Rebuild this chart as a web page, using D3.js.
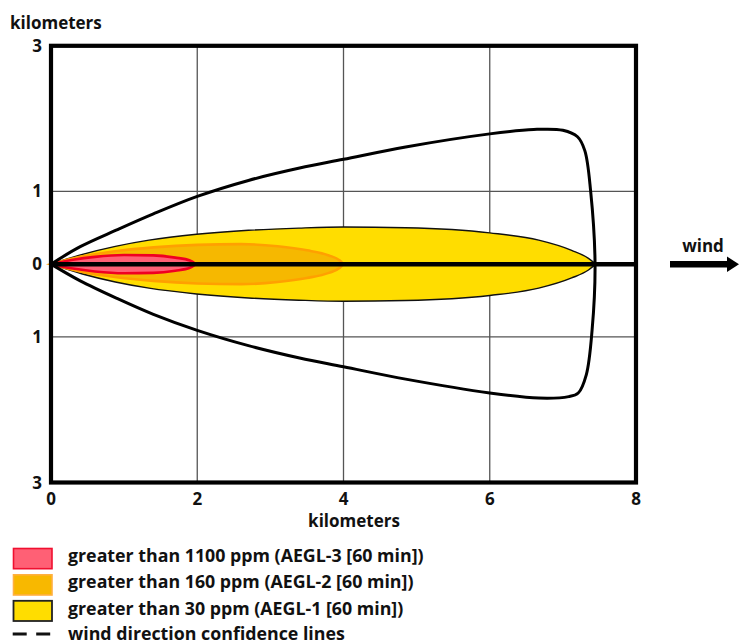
<!DOCTYPE html>
<html>
<head>
<meta charset="utf-8">
<script src="https://cdn.jsdelivr.net/npm/d3@7"></script>
<style>
  html, body { margin: 0; padding: 0; background: #fff; }
  svg { display: block; }
  text { font-family: "Open Sans", "DejaVu Sans", sans-serif; font-weight: 700; fill: #111; }
</style>
</head>
<body>
<svg id="chart" width="739" height="644"></svg>
<script>
// ---------- data (kilometers) ----------
const xTicks = [0, 2, 4, 6, 8];
const xTickLabels = ["0", "2", "4", "6", "8"];
const yTicks = [3, 1, 0, -1, -3];
const yTickLabels = ["3", "1", "0", "1", "3"];
const xGrid = [2, 4, 6];
const yGrid = [1, -1];

// wind direction confidence lines: upper branch then lower branch (x, y)
const confUpper = [
  [0, 0], [0.4, 0.24], [0.9, 0.47], [1.4, 0.69], [2.0, 0.93], [2.7, 1.15],
  [3.4, 1.32], [4.0, 1.44], [4.85, 1.61], [6.0, 1.79], [6.6, 1.85], [7.0, 1.84],
  [7.2, 1.75], [7.3, 1.56], [7.38, 1.0], [7.44, 0.0]
];
const confLower = [
  [0, 0], [0.4, -0.23], [0.9, -0.47], [1.4, -0.69], [2.0, -0.91], [2.7, -1.12],
  [3.4, -1.29], [4.0, -1.41], [4.85, -1.58], [6.0, -1.77], [6.67, -1.84], [7.08, -1.82],
  [7.21, -1.77], [7.32, -1.52], [7.40, -0.9], [7.44, 0.0]
];

// threat zones: downwind distance and half-width
const aegl1 = [
  [0, 0], [0.43, 0.135], [0.88, 0.245], [1.34, 0.33], [1.99, 0.41], [2.70, 0.465],
  [3.39, 0.495], [4.0, 0.51], [4.85, 0.5], [6.0, 0.43], [6.67, 0.33], [7.12, 0.19],
  [7.35, 0.08], [7.45, 0]
];
const aegl2 = [
  [0, 0], [0.4, 0.1], [0.9, 0.18], [1.4, 0.23], [2.0, 0.265], [2.6, 0.275],
  [3.1, 0.245], [3.5, 0.19], [3.8, 0.12], [3.95, 0.05], [4.0, 0]
];
const aegl3 = [
  [0, 0], [0.3, 0.06], [0.6, 0.1], [1.0, 0.125], [1.4, 0.12], [1.7, 0.09],
  [1.9, 0.05], [1.98, 0]
];

const legendLabels = [
  "greater than 1100 ppm (AEGL-3 [60 min])",
  "greater than 160 ppm (AEGL-2 [60 min])",
  "greater than 30 ppm (AEGL-1 [60 min])",
  "wind direction confidence lines"
];
const axisTitle = "kilometers";
const windLabel = "wind";

// ---------- layout ----------
const svg = d3.select("#chart");
const pLeft = 51, pRight = 636, pTop = 45.8, pBottom = 482.5;
const x = d3.scaleLinear().domain([0, 8]).range([pLeft, pRight]);
const y = d3.scaleLinear().domain([-3, 3]).range([pBottom, pTop]);

// grid
svg.append("g").selectAll("line").data(xGrid).join("line")
  .attr("x1", d => x(d)).attr("x2", d => x(d))
  .attr("y1", pTop).attr("y2", pBottom)
  .attr("stroke", "#555").attr("stroke-width", 1.3);
svg.append("g").selectAll("line").data(yGrid).join("line")
  .attr("x1", pLeft).attr("x2", pRight)
  .attr("y1", d => y(d)).attr("y2", d => y(d))
  .attr("stroke", "#555").attr("stroke-width", 1.3);

// zones
const zoneArea = d3.area()
  .x(d => x(d[0])).y0(d => y(-d[1])).y1(d => y(d[1]))
  .curve(d3.curveMonotoneX);

svg.append("path").attr("d", zoneArea(aegl1))
  .attr("fill", "#FFDD00").attr("stroke", "#111").attr("stroke-width", 1.4);
svg.append("path").attr("d", zoneArea(aegl2))
  .attr("fill", "#F6B800").attr("stroke", "#FFA000").attr("stroke-width", 2.6);
svg.append("path").attr("d", zoneArea(aegl3))
  .attr("fill", "#FF6075").attr("stroke", "#F00022").attr("stroke-width", 2.6);

// confidence lines
const confLine = d3.line().x(d => x(d[0])).y(d => y(d[1]))
  .curve(d3.curveCatmullRom.alpha(0.5));
const confPts = confUpper.concat(confLower.slice(0, -1).reverse());
svg.append("path").attr("d", confLine(confPts))
  .attr("fill", "none").attr("stroke", "#000").attr("stroke-width", 3)
  .attr("stroke-linejoin", "round");

// wind centre line
svg.append("line")
  .attr("x1", x(0)).attr("x2", x(8))
  .attr("y1", y(0)).attr("y2", y(0))
  .attr("stroke", "#000").attr("stroke-width", 4.5);

// frame
svg.append("rect")
  .attr("x", pLeft).attr("y", pTop)
  .attr("width", pRight - pLeft).attr("height", pBottom - pTop)
  .attr("fill", "none").attr("stroke", "#000").attr("stroke-width", 4.2);

// axes labels
const fs = 17;
svg.append("g").selectAll("text").data(yTicks).join("text")
  .attr("x", pLeft - 9).attr("y", d => y(d)).attr("dy", "0.36em")
  .attr("text-anchor", "end").attr("font-size", fs)
  .text((d, i) => yTickLabels[i]);
svg.append("g").selectAll("text").data(xTicks).join("text")
  .attr("x", d => x(d)).attr("y", 504.5)
  .attr("text-anchor", "middle").attr("font-size", fs)
  .text((d, i) => xTickLabels[i]);
svg.append("text").attr("x", 354).attr("y", 526.5)
  .attr("text-anchor", "middle").attr("font-size", fs).text(axisTitle);
svg.append("text").attr("x", 10).attr("y", 29.3)
  .attr("font-size", fs).text(axisTitle);

// wind arrow
svg.append("text").attr("x", 703).attr("y", 252)
  .attr("text-anchor", "middle").attr("font-size", fs).text(windLabel);
svg.append("line").attr("x1", 670).attr("x2", 729)
  .attr("y1", 264.3).attr("y2", 264.3)
  .attr("stroke", "#000").attr("stroke-width", 6.5);
svg.append("path")
  .attr("d", "M727,256.5 L739,264.3 L727,272 Z").attr("fill", "#000");

// legend
const legendStyles = [
  { fill: "#FF6075", stroke: "#F01030", sw: 1.6 },
  { fill: "#F8B800", stroke: "#FFB040", sw: 1.6 },
  { fill: "#FFDD00", stroke: "#222", sw: 1.8 }
];
const rowY = [547.7, 574, 600];
const lg = svg.append("g");
lg.selectAll("rect").data(legendStyles).join("rect")
  .attr("x", 13.5).attr("y", (d, i) => rowY[i] + 0.8)
  .attr("width", 38.5).attr("height", 20.2)
  .attr("fill", d => d.fill).attr("stroke", d => d.stroke).attr("stroke-width", d => d.sw);
lg.append("line").attr("x1", 12.7).attr("x2", 52).attr("y1", 634).attr("y2", 634)
  .attr("stroke", "#111").attr("stroke-width", 3).attr("stroke-dasharray", "14,9.5");
const textY = [561.7, 588, 614.5, 640];
lg.selectAll("text").data(legendLabels).join("text")
  .attr("x", 68).attr("y", (d, i) => textY[i])
  .attr("font-size", 17.8).text(d => d);
</script>
</body>
</html>
